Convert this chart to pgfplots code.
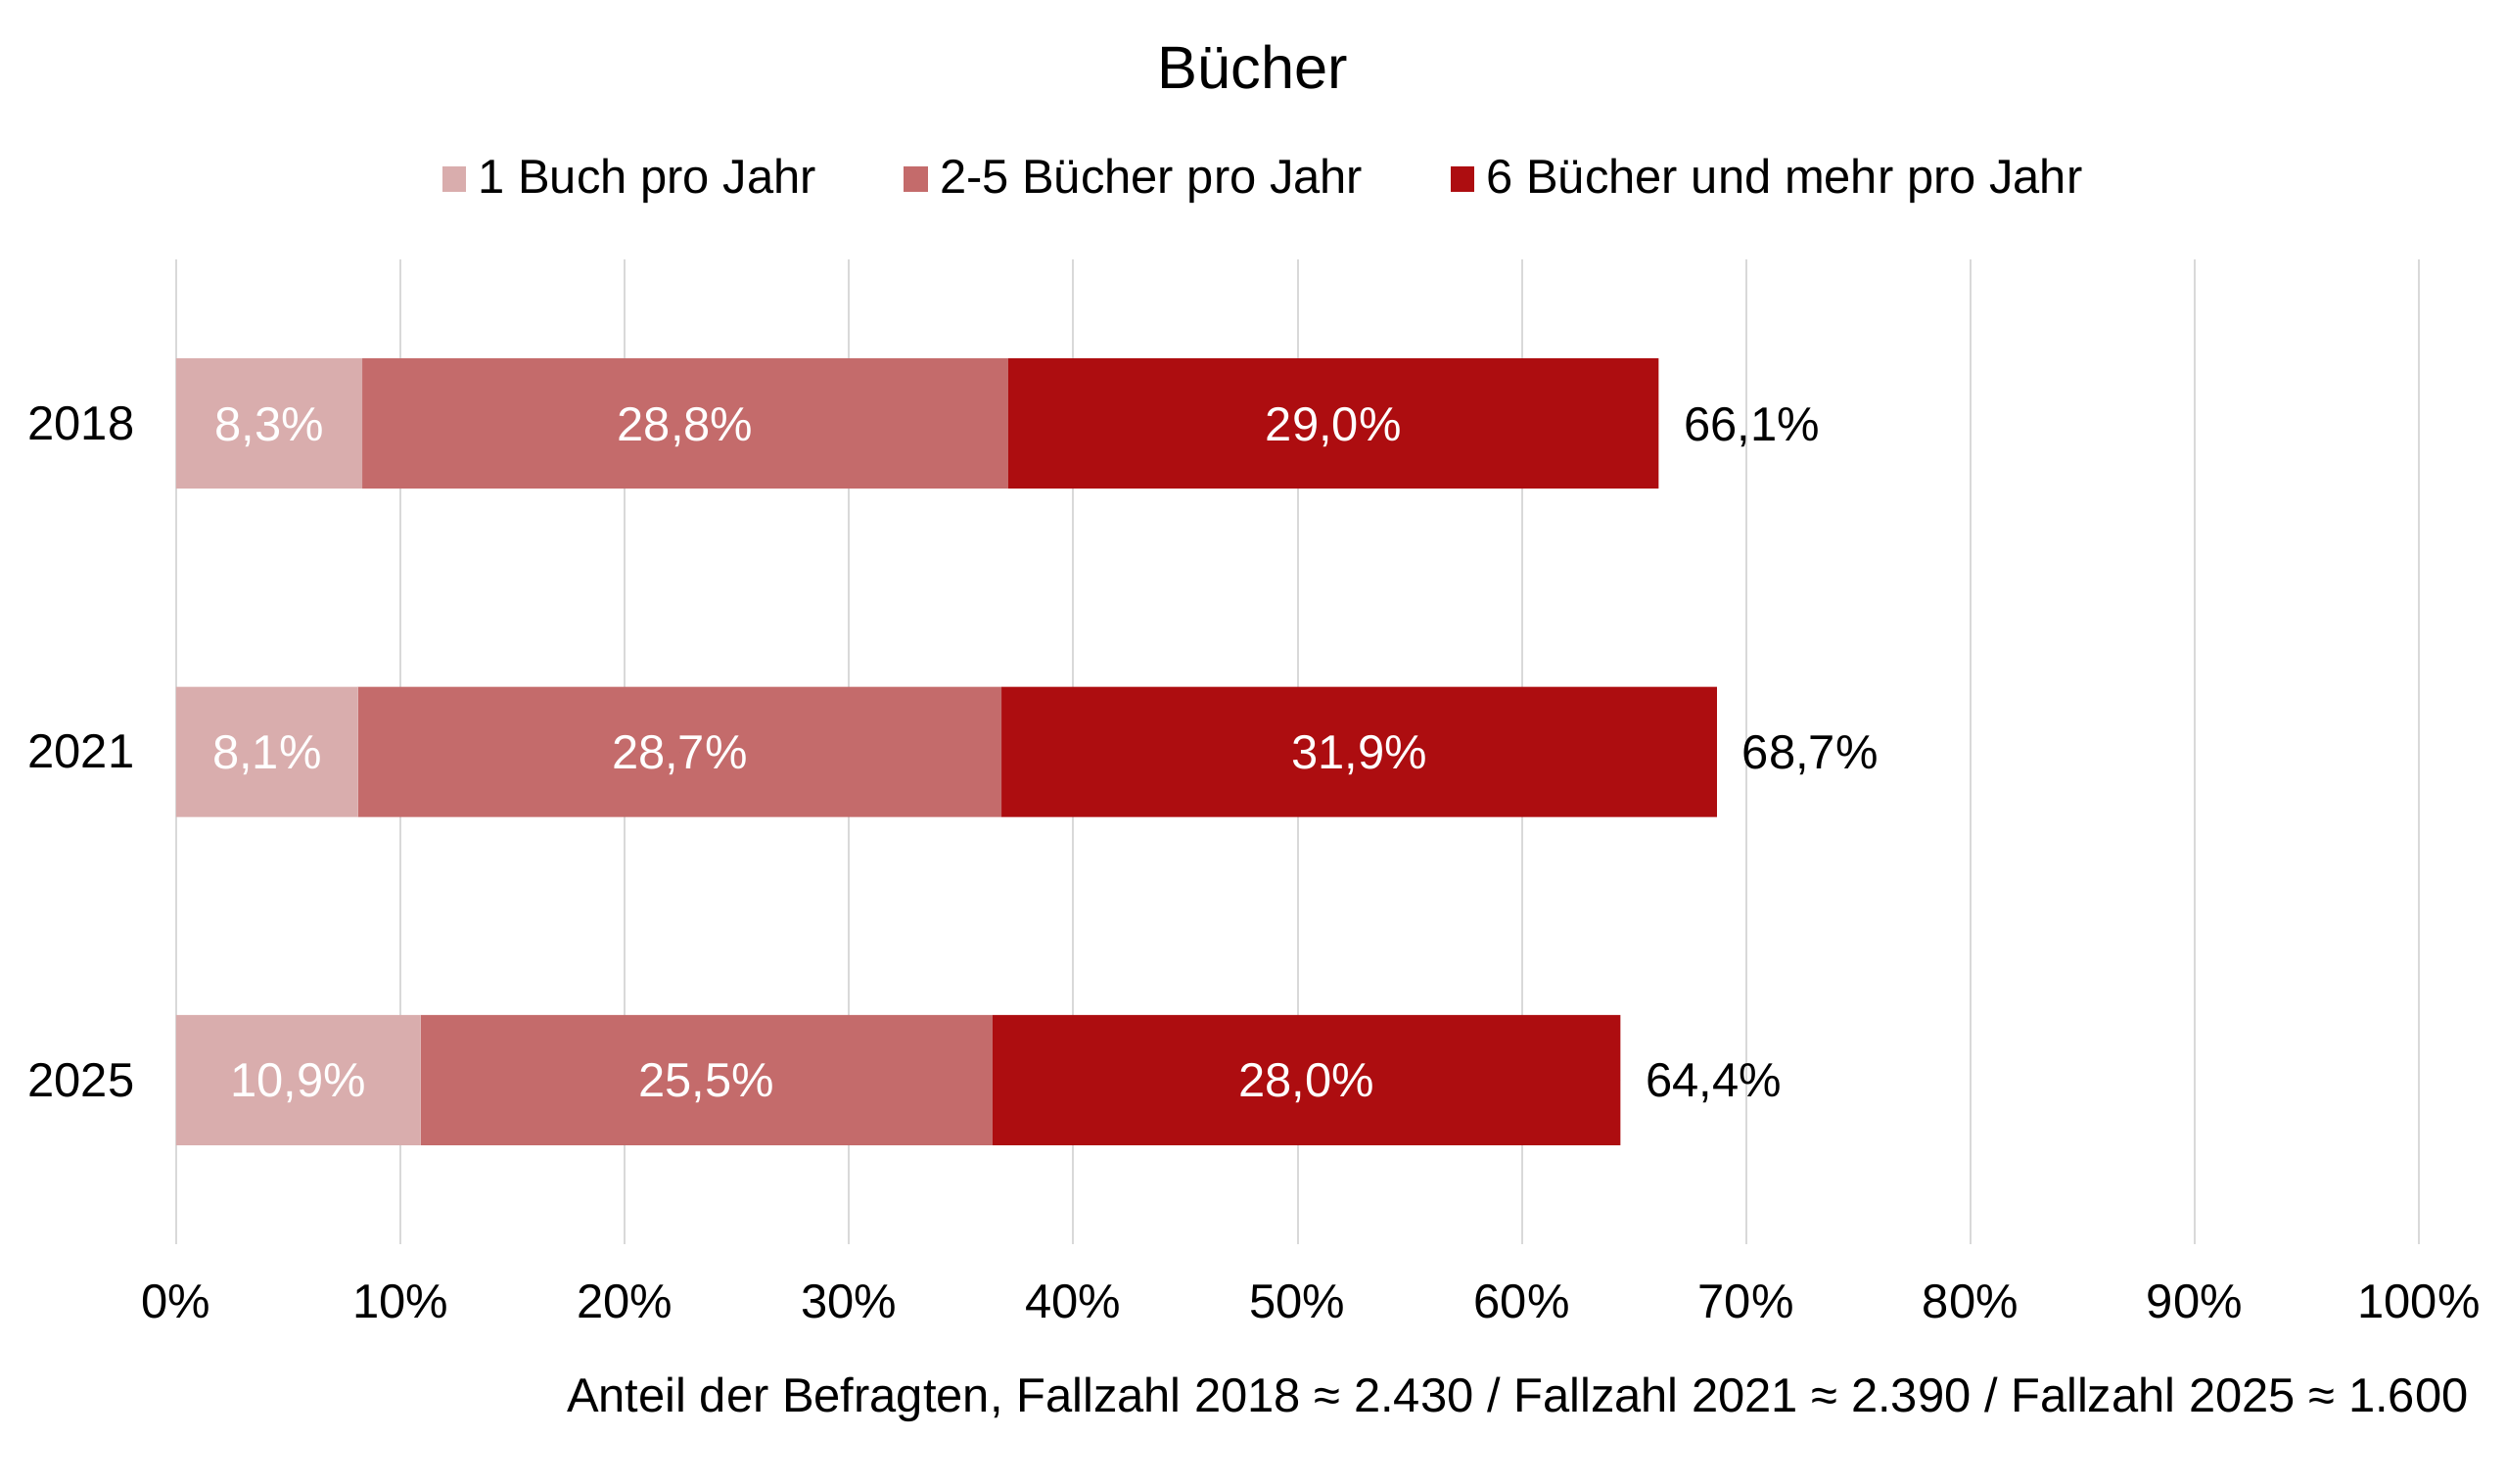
\documentclass[border=0pt]{standalone}
\usepackage{pgfplots}
\pgfplotsset{compat=1.18}
\usepackage{fontspec}
\setmainfont{Liberation Sans}
\definecolor{cLight}{RGB}{217,173,173}
\definecolor{cMid}{RGB}{196,107,107}
\definecolor{cDark}{RGB}{173,13,16}
\definecolor{gridgray}{RGB}{217,217,217}
\newcommand\lbl{\fontsize{14.67}{17}\selectfont}
\newcommand\ttl{\fontsize{18.4}{22}\selectfont}
\begin{document}
\begin{tikzpicture}
\useasboundingbox (-54pt,-73.5pt) rectangle (714pt,381.3pt);
\begin{axis}[
  at={(0,0)}, anchor=south west,
  scale only axis, width=687.3pt, height=301.8pt,
  xbar stacked, bar width=39.9pt,
  xmin=0, xmax=100, ymin=-0.5, ymax=2.5, y dir=reverse,
  xtick={0,10,20,30,40,50,60,70,80,90,100},
  xticklabels={0\%,10\%,20\%,30\%,40\%,50\%,60\%,70\%,80\%,90\%,100\%},
  ytick={0,1,2}, yticklabels={2018,2021,2025},
  /pgf/number format/assume math mode=true,
  xmajorgrids, ymajorgrids=false,
  major grid style={draw=gridgray, line width=0.6pt},
  axis line style={draw=none}, major tick length=0pt,
  tick label style={font=\lbl, text=black},
  xticklabel style={anchor=base, inner sep=0pt, yshift=-22.5pt},
  yticklabel style={anchor=east, inner sep=0pt, xshift=-12.6pt},
  clip=false,
  legend columns=3,
  legend style={at={(0.4843,1.0819)}, anchor=center, draw=none, fill=none,
    font=\lbl, inner sep=0pt, outer sep=0pt,
    nodes={inner sep=0pt},
    /tikz/every odd column/.append style={column sep=3.75pt},
    /tikz/every even column/.append style={column sep=26.8pt}},
  legend image code/.code={\fill[#1] (0pt,-3.9pt) rectangle (7.35pt,3.9pt);},
]
\addplot[fill=cLight, draw=none] coordinates {(8.3,0) (8.1,1) (10.9,2)};
\addlegendentry{1 Buch pro Jahr}
\addplot[fill=cMid, draw=none] coordinates {(28.8,0) (28.7,1) (25.5,2)};
\addlegendentry{2-5 Bücher pro Jahr}
\addplot[fill=cDark, draw=none] coordinates {(29.0,0) (31.9,1) (28.0,2)};
\addlegendentry{6 Bücher und mehr pro Jahr}
\end{axis}
\begin{axis}[
  at={(0,0)}, anchor=south west,
  scale only axis, width=687.3pt, height=301.8pt,
  xmin=0, xmax=100, ymin=-0.5, ymax=2.5, y dir=reverse,
  hide axis, clip=false,
]
\addplot[only marks, mark=*, mark size=0pt, mark options={draw=none, fill=none},
  nodes near coords, point meta=explicit symbolic,
  every node near coord/.append style={anchor=base, inner sep=0pt, yshift=-5.25pt, font=\lbl, text=white}]
  coordinates {
  (4.15,0) [8,3\%]  (22.7,0) [28,8\%]  (51.6,0) [29,0\%]
  (4.05,1) [8,1\%]  (22.45,1) [28,7\%] (52.75,1) [31,9\%]
  (5.45,2) [10,9\%] (23.65,2) [25,5\%] (50.4,2) [28,0\%]
  };
\addplot[only marks, mark=*, mark size=0pt, mark options={draw=none, fill=none},
  nodes near coords, point meta=explicit symbolic,
  every node near coord/.append style={anchor=base west, inner sep=0pt, xshift=7.6pt, yshift=-5.25pt, font=\lbl, text=black}]
  coordinates {(66.1,0) [66,1\%] (68.7,1) [68,7\%] (64.4,2) [64,4\%]};
\end{axis}
\node[font=\ttl, anchor=base, inner sep=0pt] at (330pt,354pt) {Bücher};
\node[font=\lbl, anchor=base east, inner sep=0pt] at (702.7pt,-51.6pt)
  {Anteil der Befragten, Fallzahl 2018 ≈ 2.430 / Fallzahl 2021 ≈ 2.390 / Fallzahl 2025 ≈ 1.600};
\end{tikzpicture}
\end{document}
